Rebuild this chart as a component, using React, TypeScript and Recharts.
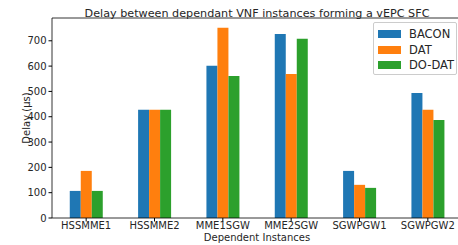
import React from "react";
import { BarChart, Bar, XAxis, YAxis, ReferenceLine } from "recharts";

const categories = ["HSSMME1", "HSSMME2", "MME1SGW", "MME2SGW", "SGWPGW1", "SGWPGW2"];
const bacon = [107, 428, 601, 727, 186, 494];
const dat = [186, 428, 751, 569, 131, 428];
const doDat = [107, 428, 561, 708, 119, 387];
const yTicks = [0, 100, 200, 300, 400, 500, 600, 700];

const SERIES = [
  { key: "BACON", color: "#1f77b4" },
  { key: "DAT", color: "#ff7f0e" },
  { key: "DO-DAT", color: "#2ca02c" },
];

const data = categories.map((name, i) => ({
  name,
  BACON: bacon[i],
  DAT: dat[i],
  "DO-DAT": doDat[i],
}));

const FONT = "'DejaVu Sans', sans-serif";
const TEXT = "#262626";

export default function App() {
  return (
    <div style={{ position: "absolute", left: 0, top: 0, width: 458, height: 245, overflow: "hidden", background: "#fff", fontFamily: FONT }}>
      <BarChart
        width={470}
        height={245}
        data={data}
        margin={{ top: 18, right: 8, left: 0, bottom: 0 }}
        barCategoryGap="26%"
        barGap={0}
      >
        <XAxis
          dataKey="name"
          height={27}
          tick={{ fontSize: 10, fill: TEXT, fontFamily: FONT }}
          tickSize={3.5}
          tickMargin={0}
          tickLine={{ stroke: "#000" }}
          axisLine={{ stroke: "#000", strokeWidth: 0.8 }}
          interval={0}
        />
        <YAxis
          width={52}
          domain={[0, 790]}
          ticks={yTicks}
          allowDataOverflow
          tick={{ fontSize: 10, fill: TEXT, fontFamily: FONT }}
          tickSize={3.5}
          tickLine={{ stroke: "#000" }}
          axisLine={{ stroke: "#000", strokeWidth: 0.8 }}
        />
        <ReferenceLine y={790} stroke="#000" strokeWidth={0.8} />
        {SERIES.map((s) => (
          <Bar key={s.key} dataKey={s.key} fill={s.color} isAnimationActive={false} />
        ))}
      </BarChart>
      <svg width={458} height={245} style={{ position: "absolute", left: 0, top: 0, pointerEvents: "none" }}>
        <text x={257} y={13} textAnchor="middle" dominantBaseline="central" fontSize={11.2} fill={TEXT} fontFamily={FONT}>
          Delay between dependant VNF instances forming a vEPC SFC
        </text>
        <text
          x={26}
          y={118}
          textAnchor="middle"
          dominantBaseline="central"
          fontSize={10}
          fill={TEXT}
          fontFamily={FONT}
          transform="rotate(-90 26 118)"
        >
          Delay (μs)
        </text>
        <text x={257} y={237} textAnchor="middle" dominantBaseline="central" fontSize={10} fill={TEXT} fontFamily={FONT}>
          Dependent Instances
        </text>
      </svg>
      <div
        style={{
          position: "absolute",
          left: 373,
          top: 22,
          width: 84,
          height: 53,
          boxSizing: "border-box",
          border: "1px solid #cccccc",
          borderRadius: 2,
          background: "rgba(255,255,255,0.8)",
          padding: "3px 0 0 4px",
        }}
      >
        {SERIES.map((s) => (
          <div key={s.key} style={{ display: "flex", alignItems: "center", height: 15.7, fontSize: 11.5, color: TEXT }}>
            <span style={{ display: "inline-block", width: 23, height: 8, background: s.color, marginRight: 8 }} />
            {s.key}
          </div>
        ))}
      </div>
    </div>
  );
}
